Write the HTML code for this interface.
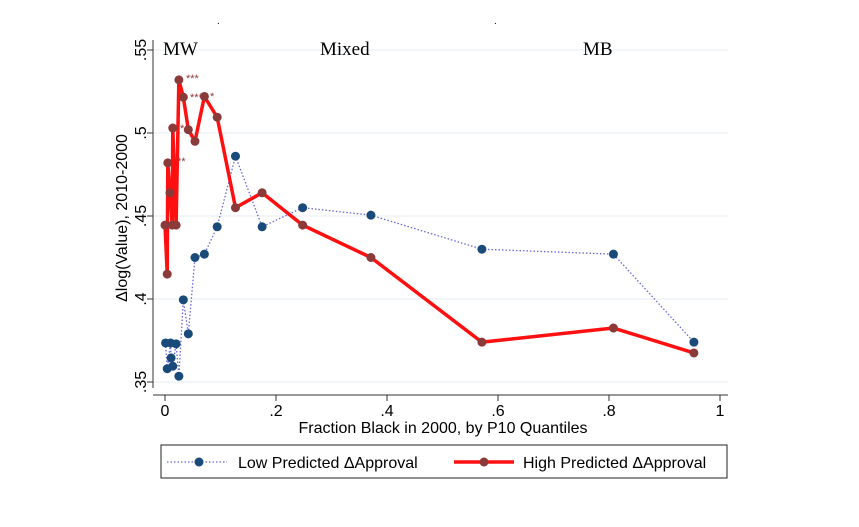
<!DOCTYPE html>
<html><head><meta charset="utf-8"><style>
body{margin:0;background:#fff;}
svg{display:block;font-family:"Liberation Sans",sans-serif;}
</style></head><body>
<svg width="859" height="527" viewBox="0 0 859 527">
<rect width="859" height="527" fill="#fff"/>
<g id="grid"></g>
<g id="axes"></g>
<g id="series"></g>
<text x="217" y="24" font-size="10">.</text>
<text x="494" y="24" font-size="10">.</text>
<text x="163" y="55" font-family="Liberation Serif,serif" font-size="19">MW</text>
<text x="320" y="55" font-family="Liberation Serif,serif" font-size="19">Mixed</text>
<text x="583" y="55" font-family="Liberation Serif,serif" font-size="19">MB</text>
<g fill="#8b3a3a" font-size="11">
<text x="186" y="82">***</text>
<text x="190" y="101">***</text>
<text x="210" y="100">*</text>
<text x="180" y="132">*</text>
<text x="177" y="165">**</text>
</g>
<text transform="translate(127,218) rotate(-90)" text-anchor="middle" font-size="16">Δlog(Value), 2010-2000</text>
<text x="443" y="433" text-anchor="middle" font-size="16">Fraction Black in 2000, by P10 Quantiles</text>
<g>
<rect x="161" y="445" width="566" height="33" fill="#fff" stroke="#222" stroke-width="1"/>
<line x1="167" y1="462" x2="227" y2="462" stroke="#6666dd" stroke-width="1.3" stroke-dasharray="1.5,2"/>
<circle cx="199" cy="462" r="4.5" fill="#1a4a7a"/>
<text x="238" y="468" font-size="16">Low Predicted ΔApproval</text>
<line x1="454" y1="462" x2="514" y2="462" stroke="#ff1010" stroke-width="3.5"/>
<circle cx="484" cy="462" r="4.5" fill="#8b3a3a"/>
<text x="523" y="468" font-size="16">High Predicted ΔApproval</text>
</g>
</svg>
<script>
const xTicks=[0,0.2,0.4,0.6,0.8,1];
const xTickLabels=["0",".2",".4",".6",".8","1"];
const yTicks=[0.35,0.4,0.45,0.5,0.55];
const yTickLabels=[".35",".4",".45",".5",".55"];
const lowX=[0.001,0.004,0.010,0.011,0.014,0.020,0.025,0.033,0.042,0.054,0.071,0.094,0.127,0.175,0.248,0.371,0.571,0.808,0.953];
const lowY=[0.3735,0.358,0.3735,0.3645,0.3595,0.373,0.3535,0.3995,0.379,0.425,0.427,0.4435,0.486,0.4435,0.455,0.4505,0.430,0.427,0.374];
const highX=[0.000,0.004,0.005,0.009,0.013,0.014,0.020,0.025,0.033,0.042,0.054,0.071,0.094,0.127,0.175,0.248,0.371,0.571,0.808,0.953];
const highY=[0.4445,0.415,0.482,0.464,0.4445,0.503,0.4445,0.532,0.5216,0.502,0.495,0.522,0.5095,0.455,0.464,0.4445,0.425,0.374,0.3825,0.3675];
const NS='http://www.w3.org/2000/svg';
const X=v=>165+v*555;
const Y=v=>382-(v-0.35)*1660;
function mk(tag,attrs,parent,txt){const e=document.createElementNS(NS,tag);for(const k in attrs)e.setAttribute(k,attrs[k]);if(txt!==undefined)e.textContent=txt;parent.appendChild(e);return e;}
const grid=document.getElementById('grid'),axes=document.getElementById('axes'),ser=document.getElementById('series');
yTicks.forEach((t,i)=>{
 const g=mk('line',{x1:153,x2:728,y1:Y(t),y2:Y(t),stroke:'#e6ecf0','stroke-width':1},grid);
 
 
 const tk=mk('line',{x1:147,x2:153,y1:Y(t),y2:Y(t),stroke:'#333'},axes);
 
 
 const lb=mk('text',{transform:`translate(146,${Y(t)}) rotate(-90)`,'text-anchor':'middle','font-size':16},axes,yTickLabels[i]);
 
 
});
const ya=mk('line',{x1:153,x2:153,y1:40,y2:388,stroke:'#333'},axes);


const xa=mk('line',{x1:153,x2:728,y1:395,y2:395,stroke:'#333'},axes);


xTicks.forEach((t,i)=>{
 const tk=mk('line',{x1:X(t),x2:X(t),y1:395,y2:401,stroke:'#333'},axes);
 
 
 const lb=mk('text',{x:X(t),y:416,'text-anchor':'middle','font-size':16},axes,xTickLabels[i]);
 
 
});
const lowPts=lowX.map((x,i)=>X(x)+','+Y(lowY[i])).join(' ');
const lowLine=mk('polyline',{points:lowPts,fill:'none',stroke:'#6666dd','stroke-width':1.3,'stroke-dasharray':'1.5,2'},ser);


const highPts=highX.map((x,i)=>X(x)+','+Y(highY[i])).join(' ');
const highLine=mk('polyline',{points:highPts,fill:'none',stroke:'#ff1010','stroke-width':3.5,'stroke-linejoin':'miter'},ser);


lowX.forEach((x,i)=>{
 const c=mk('circle',{cx:X(x),cy:Y(lowY[i]),r:4.5,fill:'#1a4a7a'},ser);
 
 
});
highX.forEach((x,i)=>{
 const c=mk('circle',{cx:X(x),cy:Y(highY[i]),r:4.5,fill:'#8b3a3a'},ser);
 
 
});
</script>
</body></html>
